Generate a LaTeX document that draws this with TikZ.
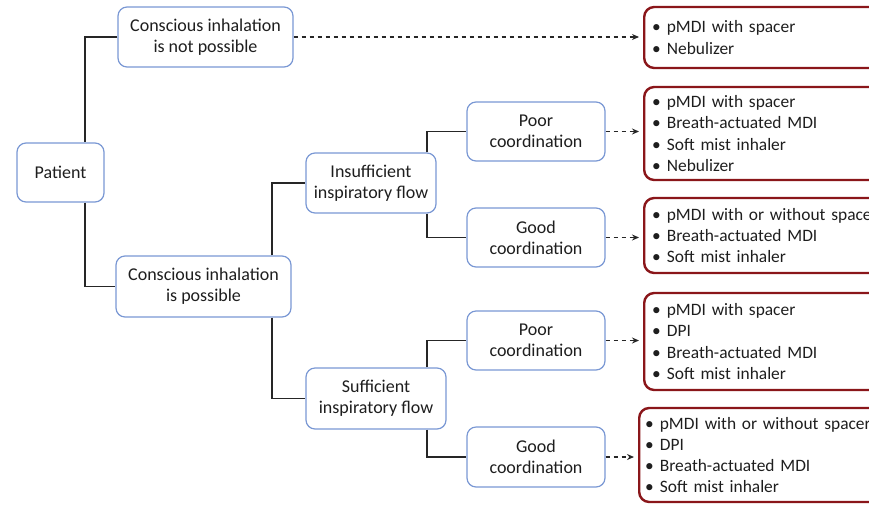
\documentclass[tikz,border=0pt]{standalone}
\usepackage{fontspec}
\setmainfont{Carlito}
\usetikzlibrary{arrows.meta}
\definecolor{boxblue}{RGB}{122,152,212}
\definecolor{boxred}{RGB}{138,22,26}
\definecolor{txt}{RGB}{30,30,30}
\newcommand{\bul}{\textbullet\hspace{6pt}}
\newcommand{\redfont}{\fontsize{17.4}{21.3}\selectfont\fontdimen2\font=2.6pt\relax}
\begin{document}
\begin{tikzpicture}[x=1pt,y=-1pt,
  every node/.style={font=\fontsize{18}{21.3}\selectfont, text=txt},
  bluebox/.style={draw=boxblue, line width=1.2pt, rounded corners=9pt, fill=white, align=center, inner sep=0pt},
  redbox/.style={draw=boxred, line width=2.4pt, rounded corners=10pt, anchor=west, text width=250pt, inner xsep=8pt, inner ysep=0pt, align=left, font=\redfont},
  link/.style={line width=1.4pt, black!85},
  dasharrow/.style={line width=1.1pt, black!85, dash pattern=on 4.5pt off 3.5pt, -{Stealth[length=7pt,width=6pt]}, shorten >=4pt}]
\useasboundingbox (0,0) rectangle (869,504);

% blue boxes
\node[bluebox, minimum width=87pt, minimum height=59pt] (patient) at (60.5,172.5) {Patient};
\node[bluebox, minimum width=175pt, minimum height=60pt] (notposs) at (205.5,37) {Conscious inhalation\\is not possible};
\node[bluebox, minimum width=175pt, minimum height=61pt] (poss) at (203.5,286.5) {Conscious inhalation\\is possible};
\node[bluebox, minimum width=130pt, minimum height=60pt] (insuf) at (371,183) {Insufficient\\inspiratory flow};
\node[bluebox, minimum width=140pt, minimum height=61pt] (suf) at (376,398.5) {Sufficient\\inspiratory flow};
\node[bluebox, minimum width=138pt, minimum height=59pt] (poor1) at (536,131.5) {Poor\\coordination};
\node[bluebox, minimum width=138pt, minimum height=59pt] (good1) at (536,237.5) {Good\\coordination};
\node[bluebox, minimum width=138pt, minimum height=59pt] (poor2) at (536,340.5) {Poor\\coordination};
\node[bluebox, minimum width=138pt, minimum height=60pt] (good2) at (536,457) {Good\\coordination};

% red boxes
\node[redbox, minimum height=61pt] (r1) at (643,37.5) {\bul pMDI with spacer\\\bul Nebulizer};
\node[redbox, minimum height=93pt] (r2) at (643,133.5) {\bul pMDI with spacer\\\bul Breath-actuated MDI\\\bul Soft mist inhaler\\\bul Nebulizer};
\node[redbox, minimum height=75pt] (r3) at (643,235.5) {\bul pMDI with or without spacer\\\bul Breath-actuated MDI\\\bul Soft mist inhaler};
\node[redbox, minimum height=97pt] (r4) at (643,341.5) {\bul pMDI with spacer\\\bul DPI\\\bul Breath-actuated MDI\\\bul Soft mist inhaler};
\node[redbox, minimum height=94pt, inner xsep=6pt] (r5) at (638,455) {\bul pMDI with or without spacer\\\bul DPI\\\bul Breath-actuated MDI\\\bul Soft mist inhaler};

% tree connectors
\draw[link] (notposs.west) -| ([xshift=24.5pt]patient.north);
\draw[link] ([xshift=24.5pt]patient.south) |- (poss.west);
\draw[link] ([xshift=68.5pt]poss.north) |- (insuf.west);
\draw[link] ([xshift=68.5pt]poss.south) |- (suf.west);
\draw[link] ([xshift=56pt]insuf.north) |- (poor1.west);
\draw[link] ([xshift=56pt]insuf.south) |- (good1.west);
\draw[link] ([xshift=51pt]suf.north) |- (poor2.west);
\draw[link] ([xshift=51pt]suf.south) |- (good2.west);

% dashed arrows
\draw[dasharrow] (notposs.east) -- (notposs.east -| r1.west);
\draw[dasharrow] (poor1.east) -- (poor1.east -| r2.west);
\draw[dasharrow] (good1.east) -- (good1.east -| r3.west);
\draw[dasharrow] (poor2.east) -- (poor2.east -| r4.west);
\draw[dasharrow] (good2.east) -- (good2.east -| r5.west);
\end{tikzpicture}
\end{document}
